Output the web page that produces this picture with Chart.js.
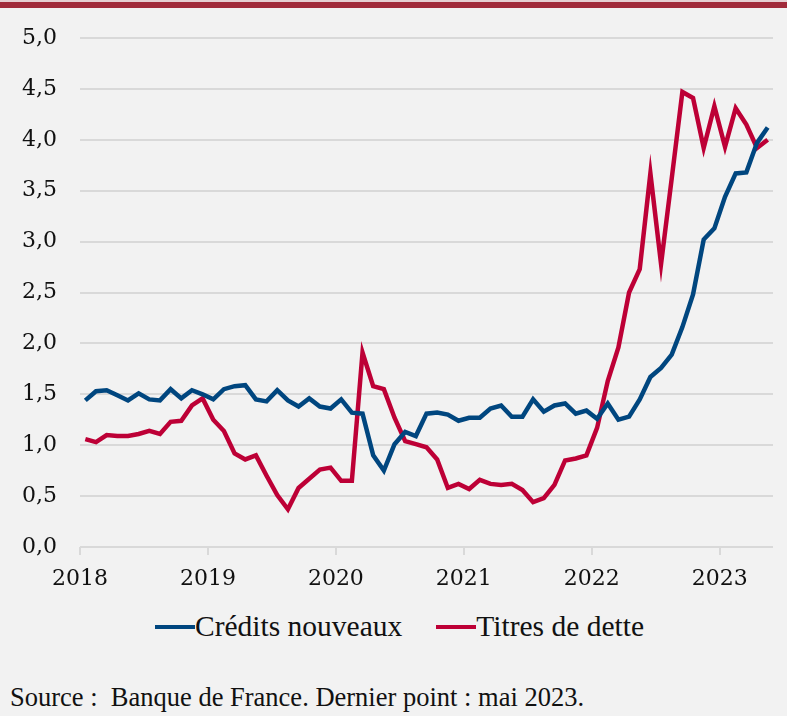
<!DOCTYPE html>
<html>
<head>
<meta charset="utf-8">
<script src="https://cdn.jsdelivr.net/npm/chart.js@4.4.0/dist/chart.umd.min.js"></script>
<style>
    body { margin: 0; background: #f2f2f2; width: 787px; height: 716px; overflow: hidden; position: relative; font-family: "Liberation Serif", serif; color: #111; }
    #band { position: absolute; left: 0; top: 0; width: 787px; height: 8px; background: #a12b3b; border-top: 2px solid #e6d0d3; box-sizing: border-box; }
    #wrap { position: absolute; left: 0; top: 0; width: 787px; height: 600px; }
    #legend { position: absolute; top: 610px; left: 155px; font-family: "Liberation Serif", serif; font-size: 29.5px; display: flex; align-items: center; white-space: nowrap; }
    .item { display: flex; align-items: center; margin-right: 34px; }
    .swatch { width: 40px; height: 4px; display: inline-block; }
    #source { position: absolute; left: 10px; top: 682px; font-family: "Liberation Serif", serif; font-size: 26.5px; white-space: pre; }
</style>
</head>
<body>
<div id="band"></div>
<div id="wrap"><canvas id="myChart"></canvas></div>
<div id="legend"></div>
<div id="source">Source :  Banque de France. Dernier point : mai 2023.</div>
<script>
// monthly, jan 2018 -> may 2023
var years = ["2018", "2019", "2020", "2021", "2022", "2023"];
var yTickLabels = ["0,0", "0,5", "1,0", "1,5", "2,0", "2,5", "3,0", "3,5", "4,0", "4,5", "5,0"];
var seriesNames = ["Crédits nouveaux", "Titres de dette"];
var seriesColors = ["#00467f", "#bd0036"];

var credits = [1.44, 1.53, 1.54, 1.49, 1.44, 1.51, 1.45, 1.44, 1.55, 1.46, 1.54, 1.50,
    1.45, 1.55, 1.58, 1.59, 1.45, 1.43, 1.54, 1.44, 1.38, 1.46, 1.38, 1.36,
    1.45, 1.32, 1.31, 0.90, 0.75, 1.01, 1.13, 1.09, 1.31, 1.32, 1.30, 1.24,
    1.27, 1.27, 1.36, 1.39, 1.28, 1.28, 1.45, 1.33, 1.39, 1.41, 1.31, 1.34,
    1.26, 1.41, 1.25, 1.28, 1.45, 1.67, 1.76, 1.89, 2.16, 2.48, 3.02, 3.13,
    3.44, 3.67, 3.68, 3.97, 4.12];

var titres = [1.06, 1.03, 1.10, 1.09, 1.09, 1.11, 1.14, 1.11, 1.23, 1.24, 1.39, 1.46,
    1.25, 1.14, 0.92, 0.86, 0.90, 0.70, 0.51, 0.37, 0.58, 0.67, 0.76, 0.78,
    0.65, 0.65, 1.91, 1.58, 1.55, 1.27, 1.04, 1.01, 0.98, 0.86, 0.58, 0.62,
    0.57, 0.66, 0.62, 0.61, 0.62, 0.56, 0.44, 0.48, 0.61, 0.85, 0.87, 0.90,
    1.17, 1.63, 1.96, 2.50, 2.73, 3.67, 2.78, 3.62, 4.47, 4.41, 3.92, 4.33,
    3.93, 4.31, 4.15, 3.92, 4.00];

const toPoints = (arr) => arr.map((v, i) => ({ x: i + 0.5, y: v }));
const gridColor = "#d9d9d9";
const tickFont = { family: "'DejaVu Serif', serif", size: 22 };

new Chart("myChart", {
    type: "line",
    data: {
        datasets: [credits, titres].map((s, k) => ({
            label: seriesNames[k],
            data: toPoints(s),
            borderColor: seriesColors[k],
            backgroundColor: seriesColors[k],
            borderWidth: 4.5,
            pointRadius: 0,
            tension: 0
        }))
    },
    options: {
        responsive: true,
        maintainAspectRatio: false,
        animation: false,
        devicePixelRatio: 1,
        layout: { padding: { top: 38, right: 14, left: 0, bottom: 0 } },
        plugins: { legend: { display: false }, tooltip: { enabled: false } },
        scales: {
            x: {
                type: "linear",
                min: 0,
                max: credits.length,
                afterBuildTicks: (scale) => { scale.ticks = years.map((y, k) => ({ value: k * 12 })); },
                afterFit: (scale) => { scale.height = 53; },
                border: { display: false },
                grid: { drawOnChartArea: false, drawTicks: true, tickLength: 8, color: gridColor, lineWidth: 2 },
                ticks: {
                    autoSkip: false, maxRotation: 0, padding: 11, color: "#111",
                    font: tickFont,
                    callback: (v) => years[Math.round(v / 12)]
                }
            },
            y: {
                min: 0,
                max: 5,
                afterFit: (scale) => { scale.width = 80; },
                border: { display: false },
                grid: { color: gridColor, lineWidth: 2, drawTicks: false },
                ticks: {
                    stepSize: 0.5, padding: 23, color: "#111",
                    font: tickFont,
                    callback: (v) => yTickLabels[Math.round(v / 0.5)]
                }
            }
        }
    }
});

var legend = document.getElementById("legend");
seriesNames.forEach((n, k) => {
    var it = document.createElement("span");
    it.className = "item";
    it.innerHTML = '<span class="swatch" style="background:' + seriesColors[k] + '"></span>' + n;
    legend.appendChild(it);
});
</script>
</body>
</html>
